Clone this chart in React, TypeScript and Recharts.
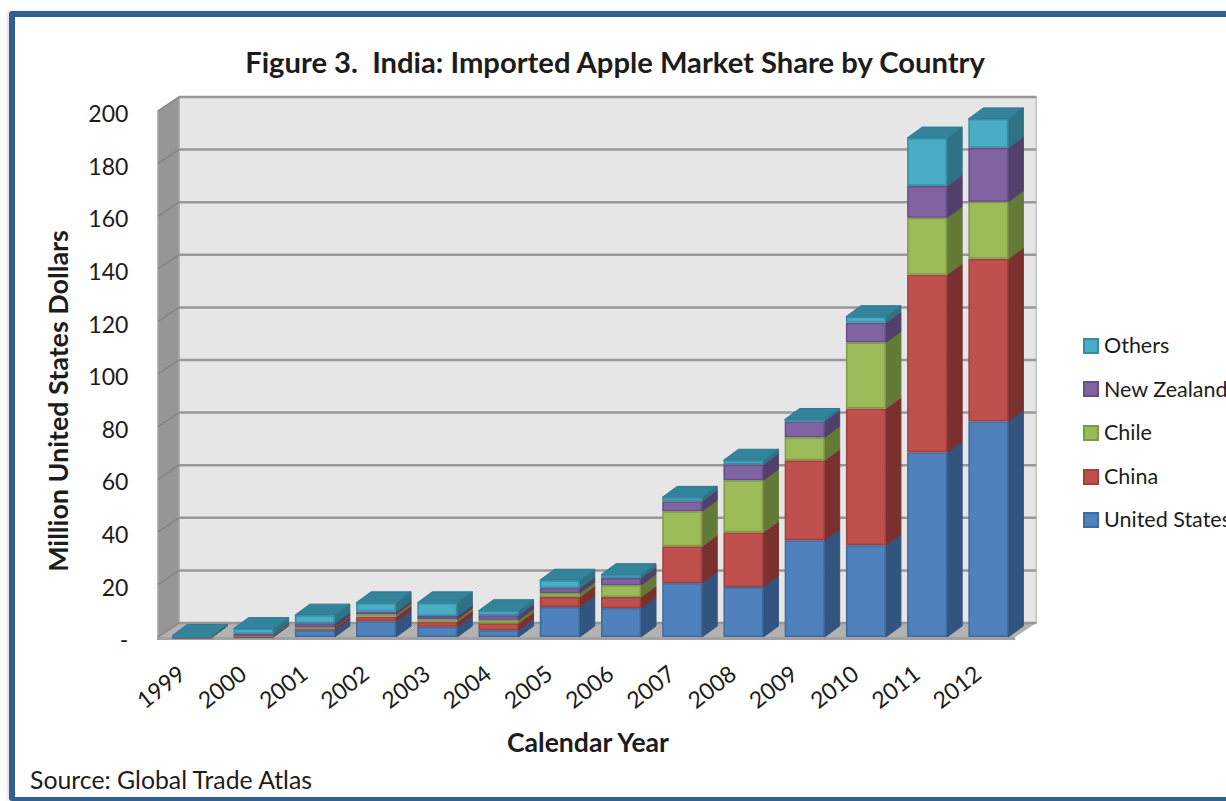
import React from 'react';
import { BarChart, Bar, XAxis, YAxis, Legend, Label, ReferenceArea, ReferenceLine } from 'recharts';

const years = ['1999', '2000', '2001', '2002', '2003', '2004', '2005', '2006', '2007', '2008', '2009', '2010', '2011', '2012'];
const unitedStates = [0.1, 0.3, 2.6, 6.0, 3.9, 2.6, 11.4, 11.0, 20.5, 19.0, 36.8, 34.9, 70.2, 82.0];
const china = [0.1, 0.2, 0.8, 1.7, 1.9, 2.6, 3.8, 4.2, 14.0, 20.8, 30.4, 52.0, 67.6, 61.8];
const chile = [0.1, 0.4, 0.3, 0.9, 0.9, 1.3, 1.5, 4.5, 13.3, 19.8, 8.7, 25.1, 21.6, 21.7];
const newZealand = [0.1, 0.3, 1.5, 1.0, 1.3, 1.8, 1.9, 2.7, 3.8, 6.0, 6.1, 7.5, 12.1, 20.5];
const others = [0.2, 2.0, 3.1, 3.4, 5.0, 1.7, 3.0, 1.3, 1.5, 1.6, 0.7, 2.3, 18.2, 11.0];

const yTicks = [0, 20, 40, 60, 80, 100, 120, 140, 160, 180, 200];

const rows = years.map((year, i) => ({
  year,
  unitedStates: unitedStates[i],
  china: china[i],
  chile: chile[i],
  newZealand: newZealand[i],
  others: others[i],
}));

const seriesList = [
  { key: 'unitedStates', name: 'United States', fill: '#4F81BD', edge: '#3F6A9E', side: '#32557F' },
  { key: 'china', name: 'China', fill: '#C0504D', edge: '#A33F3C', side: '#7A302E' },
  { key: 'chile', name: 'Chile', fill: '#9BBB59', edge: '#7F9C45', side: '#647A37' },
  { key: 'newZealand', name: 'New Zealand', fill: '#8064A2', edge: '#674E87', side: '#523F6A' },
  { key: 'others', name: 'Others', fill: '#4BACC6', edge: '#358CA5', side: '#2F7185' },
];

const FONT = 'Lato, sans-serif';
const INK = '#1c1c1c';

// Depth of the chart box and of each column, in pixels.
const WALL_DX = 21;
const WALL_DY = -14;
const BAR_DX = 15;
const BAR_DY = -11;
// The floor sits slightly left of the category band.
const FLOOR_SHIFT = -3.4;

const pts = (list: number[][]) => list.map((p) => p.join(',')).join(' ');

function Walls(props: any) {
  const { x, y, width, height } = props;
  const left = x + FLOOR_SHIFT;
  const right = x + width + FLOOR_SHIFT;
  const bottom = y + height;
  return (
    <g>
      <polygon points={pts([[left + WALL_DX, y + WALL_DY], [right + WALL_DX, y + WALL_DY], [right + WALL_DX, bottom + WALL_DY], [left + WALL_DX, bottom + WALL_DY]])} fill="#E6E6E6" stroke="#C4C4C4" strokeWidth={1.5} />
      <polygon points={pts([[left, y], [left + WALL_DX, y + WALL_DY], [left + WALL_DX, bottom + WALL_DY], [left, bottom]])} fill="#969696" stroke="#A6A6A6" strokeWidth={1.5} />
      <polygon points={pts([[left, bottom], [left + WALL_DX, bottom + WALL_DY], [right + WALL_DX, bottom + WALL_DY], [right, bottom]])} fill="#B2B2B2" />
      <rect x={left - 1} y={bottom} width={right - left + 1} height={3} fill="#A2A2A2" />
    </g>
  );
}

function GridLine(props: any) {
  const { x1, x2, y1 } = props;
  const left = x1 + FLOOR_SHIFT;
  const right = x2 + FLOOR_SHIFT;
  return (
    <g fill="none">
      <line x1={left} y1={y1} x2={left + WALL_DX} y2={y1 + WALL_DY} stroke="#838383" strokeWidth={1.5} />
      <line x1={left + WALL_DX} y1={y1 + WALL_DY} x2={right + WALL_DX} y2={y1 + WALL_DY} stroke="#989898" strokeWidth={2.5} />
    </g>
  );
}

// Column segment with a front face, a darker right face and, for the top series, a lid.
function makeColumn(series: (typeof seriesList)[number], withTop: boolean) {
  return function Column(props: any) {
    const { x, y, width, height } = props;
    const r = x + width;
    const b = y + height;
    return (
      <g>
        <polygon points={pts([[r, y], [r + BAR_DX, y + BAR_DY], [r + BAR_DX, b + BAR_DY], [r, b]])} fill={series.side} stroke={series.side} strokeWidth={1} />
        {withTop && (
          <polygon points={pts([[x, y], [x + BAR_DX, y + BAR_DY], [r + BAR_DX, y + BAR_DY], [r, y]])} fill="#33839A" stroke="#2F7A90" strokeWidth={1} />
        )}
        <rect x={x + 0.75} y={y + 0.75} width={width - 1.5} height={Math.max(height - 1.5, 0.5)} fill={series.fill} stroke={series.edge} strokeWidth={1.5} />
      </g>
    );
  };
}

function LegendBox(props: any) {
  const payload = props.payload || [];
  // Top of the stack is listed first.
  const items = [...seriesList].reverse().map((s) => ({ spec: s, entry: payload.find((p: any) => p.value === s.name) }));
  return (
    <div style={{ fontFamily: FONT, fontSize: 21.5, color: INK, lineHeight: '43.6px', whiteSpace: 'nowrap' }}>
      {items.map(({ spec, entry }) => (
        <div key={spec.key} style={{ height: 43.6, display: 'flex', alignItems: 'center' }}>
          <span style={{ width: 16, height: 16, boxSizing: 'border-box', background: entry ? entry.color : spec.fill, border: `2px solid ${spec.edge}`, marginRight: 5, flex: 'none' }} />
          <span>{spec.name}</span>
        </div>
      ))}
    </div>
  );
}

function YearTick(props: any) {
  const { x, y, payload } = props;
  const px = x - 5;
  const py = y + 32;
  return (
    <text x={px} y={py} transform={`rotate(-38 ${px} ${py})`} textAnchor="end" fontFamily={FONT} fontSize={23} fill={INK}>
      {payload.value}
    </text>
  );
}

export default function App() {
  return (
    <div style={{ position: 'fixed', left: 0, top: 0, width: 1226, height: 801, overflow: 'hidden', background: '#fff' }}>
      <div style={{ position: 'absolute', left: 9, top: 11, width: 1400, height: 790, boxSizing: 'border-box', border: '6px solid #34608F', borderBottomWidth: 4, borderRadius: 3, boxShadow: '-2px 0 3px rgba(0,0,0,0.12)' }} />
      <div style={{ position: 'absolute', left: 0, width: 1230, top: 43, textAlign: 'center', fontFamily: FONT, fontWeight: 700, fontSize: 29.2, color: INK, whiteSpace: 'pre', lineHeight: '38px' }}>
        {'Figure 3.  India: Imported Apple Market Share by Country'}
      </div>
      <div style={{ position: 'absolute', left: 30, top: 765, fontFamily: FONT, fontSize: 24.8, color: INK, lineHeight: '30px', whiteSpace: 'pre' }}>
        Source: Global Trade Atlas
      </div>
      <div style={{ position: 'absolute', left: 0, top: 0 }}>
        <BarChart
          width={1226}
          height={801}
          data={rows}
          barSize={40}
          barCategoryGap={0}
          margin={{ top: 111, right: 207.4, bottom: 0, left: 41.4 }}
        >
          <XAxis dataKey="year" interval={0} axisLine={false} tickLine={false} height={164} tick={<YearTick />}>
            <Label value="Calendar Year" position="insideTop" offset={96} fontFamily={FONT} fontWeight={700} fontSize={26.6} fill={INK} dx={-2} />
          </XAxis>
          <YAxis
            width={120}
            domain={[0, 200]}
            ticks={yTicks}
            interval={0}
            axisLine={false}
            tickLine={false}
            tickMargin={27}
            tickFormatter={(v: number) => (v === 0 ? '-' : String(v))}
            tick={{ fontFamily: FONT, fontSize: 23, fill: INK, dy: 3 }}
          >
            <Label value="Million United States Dollars" angle={-90} position="center" fontFamily={FONT} fontWeight={700} fontSize={26.9} fill={INK} dx={-43} dy={27} />
          </YAxis>
          <ReferenceArea y1={0} y2={200} fill="none" stroke="none" shape={<Walls />} zIndex={-200} />
          {yTicks.map((t) => (
            <ReferenceLine key={t} y={t} shape={<GridLine />} zIndex={-150} />
          ))}
          {seriesList.map((s, i) => (
            <Bar
              key={s.key}
              dataKey={s.key}
              name={s.name}
              stackId="imports"
              fill={s.fill}
              isAnimationActive={false}
              shape={makeColumn(s, i === seriesList.length - 1)}
            />
          ))}
          <Legend
            layout="vertical"
            align="center"
            verticalAlign="middle"
            content={<LegendBox />}
            wrapperStyle={{ position: 'absolute', left: 1083, top: 324, width: 160 }}
          />
        </BarChart>
      </div>
    </div>
  );
}
